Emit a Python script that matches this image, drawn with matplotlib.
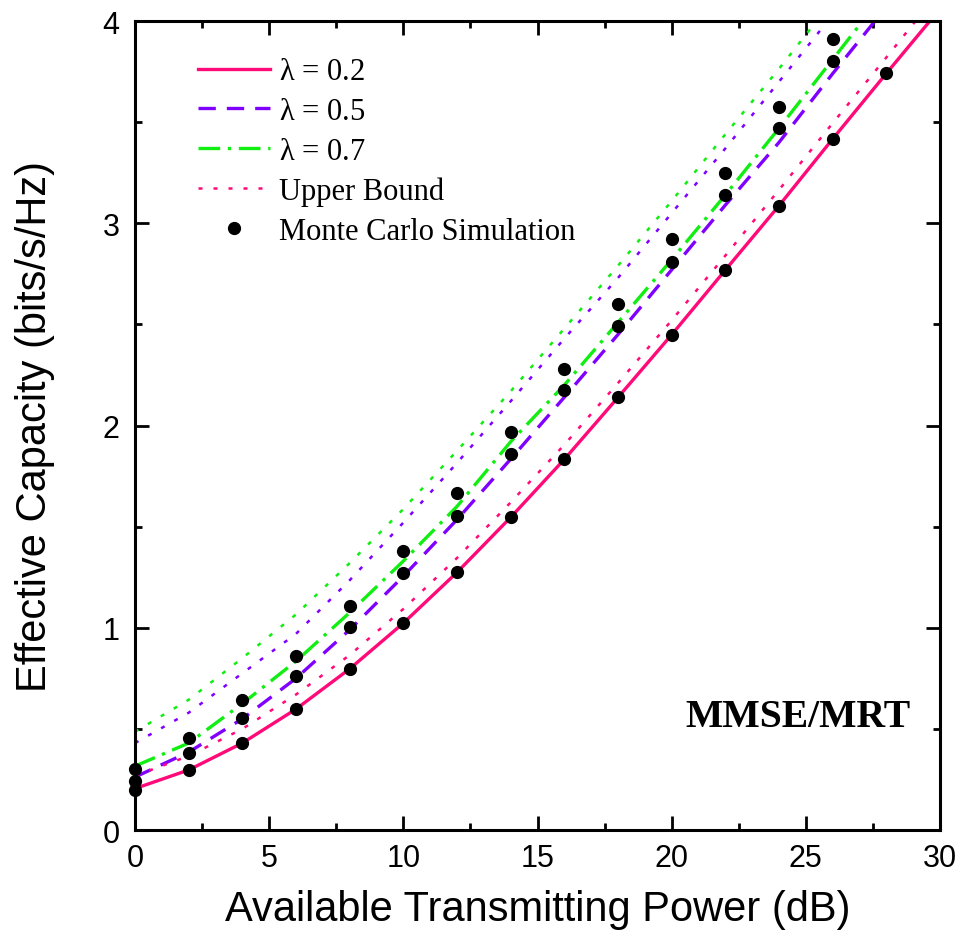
import numpy as np
import matplotlib.pyplot as plt
from matplotlib import font_manager
from matplotlib.ticker import MultipleLocator

# transmit power grid (dB)
power_db = [0, 2, 4, 6, 8, 10, 12, 14, 16, 18, 20, 22, 24, 26, 28, 30]

# analytical effective capacity
cap_02 = [0.205, 0.297, 0.43, 0.598, 0.797, 1.023, 1.274, 1.546, 1.833, 2.139,
          2.449, 2.769, 3.087, 3.417, 3.741, 4.06]
cap_05 = [0.262, 0.385, 0.55, 0.75, 0.99, 1.255, 1.535, 1.834, 2.14, 2.45,
          2.77, 3.09, 3.40, 3.74, 4.07, 4.40]
cap_07 = [0.316, 0.43, 0.625, 0.835, 1.075, 1.33, 1.60, 1.92, 2.20, 2.51,
          2.82, 3.14, 3.47, 3.81, 4.15, 4.50]

# upper bounds
ub_02 = [0.268, 0.366, 0.50, 0.67, 0.865, 1.093, 1.345, 1.62, 1.905, 2.21,
         2.52, 2.84, 3.165, 3.495, 3.82, 4.15]
ub_05 = [0.43, 0.58, 0.775, 0.97, 1.235, 1.52, 1.815, 2.12, 2.43, 2.73,
         3.05, 3.37, 3.70, 4.03, 4.36, 4.70]
ub_07 = [0.486, 0.644, 0.85, 1.066, 1.32, 1.587, 1.875, 2.169, 2.48, 2.79,
         3.11, 3.44, 3.764, 4.10, 4.44, 4.78]

# Monte Carlo simulation points
mc_x_02 = [0, 2, 4, 6, 8, 10, 12, 14, 16, 18, 20, 22, 24, 26, 28]
mc_02 = [0.198, 0.297, 0.43, 0.598, 0.797, 1.023, 1.274, 1.546, 1.833, 2.139,
         2.449, 2.769, 3.087, 3.417, 3.741]
mc_x_57 = [0, 2, 4, 6, 8, 10, 12, 14, 16, 18, 20, 22, 24, 26]
mc_05 = [0.244, 0.38, 0.554, 0.761, 1.004, 1.272, 1.554, 1.859, 2.174, 2.49,
         2.81, 3.14, 3.47, 3.80]
mc_07 = [0.30, 0.455, 0.643, 0.86, 1.109, 1.378, 1.666, 1.969, 2.279, 2.60,
         2.92, 3.25, 3.576, 3.911]

labels = [r'$\lambda$ = 0.2', r'$\lambda$ = 0.5', r'$\lambda$ = 0.7',
          'Upper Bound', 'Monte Carlo Simulation']

RED = '#ff0a78'
PURPLE = '#8000ff'
GREEN = '#11ee11'

# narrow sans for the axes if it is there
installed = {f.name for f in font_manager.fontManager.ttflist}
if 'Liberation Sans Narrow' in installed:
    sans = 'Liberation Sans Narrow'
    tick_size, label_size = 25, 34
else:
    sans = 'Liberation Sans'
    tick_size, label_size = 22, 30

plt.rcParams['font.family'] = [sans, 'DejaVu Sans']
plt.rcParams['mathtext.fontset'] = 'custom'
plt.rcParams['mathtext.rm'] = 'Liberation Serif'
plt.rcParams['mathtext.it'] = 'Liberation Serif'

fig = plt.figure(figsize=(9.65, 9.45), dpi=100)
ax = fig.add_axes([0.1399, 0.1206, 0.8342, 0.8561])

dash = (0, (5.2, 3.3))
dashdot = (0, (6.5, 2.3, 1.0, 2.3))
dotted = (0, (1.6, 4.4))

l1, = ax.plot(power_db, cap_02, color=RED, lw=2.4, ls='-')
l2, = ax.plot(power_db, cap_05, color=PURPLE, lw=2.4, ls=dash)
l3, = ax.plot(power_db, cap_07, color=GREEN, lw=2.4, ls=dashdot)
l4, = ax.plot(power_db, ub_02, color=RED, lw=1.8, ls=dotted)
ax.plot(power_db, ub_05, color=PURPLE, lw=1.8, ls=dotted)
ax.plot(power_db, ub_07, color=GREEN, lw=1.8, ls=dotted)

l5, = ax.plot(mc_x_02, mc_02, 'o', color='black', ms=8.5, clip_on=False)
ax.plot(mc_x_57, mc_05, 'o', color='black', ms=8.5, clip_on=False)
ax.plot(mc_x_57, mc_07, 'o', color='black', ms=8.5, clip_on=False)

ax.set_xlim(0, 30)
ax.set_ylim(0, 4)
ax.xaxis.set_major_locator(MultipleLocator(5))
ax.xaxis.set_minor_locator(MultipleLocator(2.5))
ax.yaxis.set_major_locator(MultipleLocator(1))
ax.yaxis.set_minor_locator(MultipleLocator(0.5))
ax.tick_params(which='both', direction='in', top=True, right=True, width=2.0)
ax.tick_params(which='major', length=10, labelsize=tick_size)
ax.tick_params(which='minor', length=5)
ax.tick_params(axis='x', pad=9)
ax.tick_params(axis='y', pad=11)
for s in ax.spines.values():
    s.set_linewidth(2.2)

ax.set_xlabel('Available Transmitting Power (dB)', fontsize=label_size,
              va='center')
ax.set_ylabel('Effective Capacity (bits/s/Hz)', fontsize=label_size,
              va='center')
ax.xaxis.set_label_coords(0.5, -0.098)
ax.yaxis.set_label_coords(-0.124, 0.5)

ax.text(24.7, 0.56, 'MMSE/MRT', fontsize=28.5, fontweight='bold',
        family='Liberation Serif', ha='center', va='center')

ax.legend([l1, l2, l3, l4, l5], labels, loc='upper left',
          bbox_to_anchor=(0.078, 0.955), frameon=False, borderpad=0,
          borderaxespad=0, handlelength=2.35, handletextpad=0.3,
          labelspacing=0.35, numpoints=1,
          prop={'family': 'Liberation Serif', 'size': 22})

fig.savefig('out.png', dpi=100)
